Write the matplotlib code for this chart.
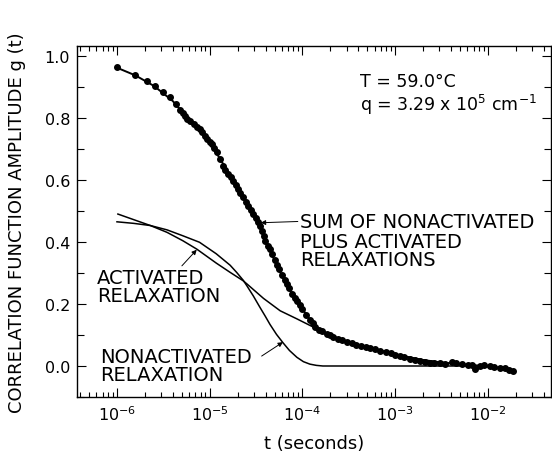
import numpy as np
import matplotlib
matplotlib.use("Agg")
import matplotlib.pyplot as plt
from matplotlib.ticker import LogLocator, MultipleLocator, NullFormatter

plt.rcParams['font.family'] = ['DejaVu Sans']

# measured points: log10(t/s), g(t)
dots_logt = [-6.00, -5.81, -5.68, -5.59, -5.50, -5.43, -5.36, -5.32, -5.29, -5.27,
             -5.24, -5.21, -5.17, -5.14, -5.11, -5.08, -5.05, -5.03, -5.00, -4.98,
             -4.95, -4.92, -4.89, -4.86, -4.83, -4.80, -4.77, -4.75, -4.72, -4.70,
             -4.67, -4.64, -4.61, -4.59, -4.56, -4.53, -4.50, -4.48, -4.46, -4.44,
             -4.42, -4.40, -4.37, -4.35, -4.33, -4.30, -4.27, -4.25, -4.22, -4.19,
             -4.17, -4.14, -4.11, -4.08, -4.06, -4.03, -4.00, -3.96, -3.92, -3.89,
             -3.86, -3.82, -3.79, -3.74, -3.70, -3.67, -3.62, -3.57, -3.52, -3.47,
             -3.42, -3.37, -3.32, -3.27, -3.22, -3.16, -3.10, -3.05, -3.00, -2.95,
             -2.90, -2.84, -2.79, -2.73, -2.68, -2.63, -2.58, -2.52, -2.46, -2.39,
             -2.34, -2.28, -2.22, -2.17, -2.14, -2.09, -2.04, -1.98, -1.93, -1.87,
             -1.82, -1.77, -1.73]
dots_g = [0.965, 0.939, 0.919, 0.903, 0.884, 0.868, 0.845, 0.826, 0.815, 0.806,
          0.798, 0.790, 0.780, 0.771, 0.763, 0.755, 0.742, 0.732, 0.724, 0.716,
          0.704, 0.690, 0.668, 0.645, 0.632, 0.619, 0.608, 0.597, 0.583, 0.571,
          0.558, 0.545, 0.530, 0.516, 0.503, 0.490, 0.478, 0.465, 0.450, 0.436,
          0.420, 0.404, 0.387, 0.376, 0.360, 0.341, 0.325, 0.312, 0.295, 0.278,
          0.265, 0.250, 0.232, 0.218, 0.208, 0.196, 0.184, 0.166, 0.148, 0.138,
          0.127, 0.116, 0.112, 0.104, 0.099, 0.094, 0.088, 0.083, 0.077, 0.073,
          0.068, 0.066, 0.062, 0.058, 0.054, 0.048, 0.045, 0.042, 0.036, 0.032,
          0.028, 0.023, 0.020, 0.016, 0.012, 0.010, 0.011, 0.010, 0.008, 0.013,
          0.009, 0.006, 0.004, 0.003, -0.010, 0.000, 0.002, 0.000, -0.004, -0.007,
          -0.008, -0.012, -0.016]

# fitted sum curve
sum_logt = [-6.0, -5.8, -5.6, -5.4, -5.2, -5.0, -4.8, -4.6, -4.5, -4.4, -4.3, -4.2,
            -4.1, -4.0, -3.9, -3.8, -3.7, -3.6, -3.5, -3.4, -3.2, -3.0, -2.8, -2.6,
            -2.4, -2.2, -2.0, -1.85, -1.72]
sum_g = [0.962, 0.937, 0.903, 0.855, 0.787, 0.722, 0.625, 0.522, 0.475, 0.405, 0.340, 0.278,
         0.226, 0.184, 0.140, 0.114, 0.097, 0.086, 0.076, 0.067, 0.052, 0.037, 0.024, 0.014,
         0.008, 0.003, -0.001, -0.007, -0.015]

# nonactivated component
nonact_logt = [-6.0, -5.82, -5.64, -5.46, -5.29, -5.11, -4.93, -4.78, -4.71, -4.64,
               -4.60, -4.53, -4.46, -4.40, -4.35, -4.28, -4.21, -4.14, -4.06, -3.99,
               -3.92, -3.85, -3.78, -3.5, -2.0]
nonact_g = [0.465, 0.460, 0.453, 0.439, 0.420, 0.399, 0.362, 0.325, 0.302, 0.277,
            0.259, 0.226, 0.190, 0.160, 0.134, 0.102, 0.075, 0.050, 0.028, 0.014,
            0.006, 0.002, 0.0, 0.0, 0.0]

# activated component
act_logt = [-5.99, -5.82, -5.64, -5.46, -5.29, -5.14, -4.93, -4.78, -4.64, -4.60, -4.42,
            -4.24, -4.06, -3.88, -3.7, -3.5, -3.3, -3.1, -2.9, -2.7, -2.5, -2.3, -2.1,
            -1.9, -1.72]
act_g = [0.490, 0.472, 0.453, 0.431, 0.404, 0.377, 0.332, 0.302, 0.275, 0.265, 0.218,
         0.178, 0.152, 0.125, 0.100, 0.076, 0.060, 0.046, 0.032, 0.020, 0.012, 0.006, 0.001,
         -0.005, -0.014]

fig = plt.figure(figsize=(5.52, 4.56), dpi=100)
ax = fig.add_axes([77/552, 1-398/456, 474/552, 351/456])

t = lambda lt: 10.0 ** np.asarray(lt)

ax.plot(t(sum_logt), sum_g, color='black', lw=1.4)
ax.plot(t(dots_logt), dots_g, 'o', color='black', ms=4.0)
ax.plot(t(nonact_logt), nonact_g, color='black', lw=1.1)
ax.plot(t(act_logt), act_g, color='black', lw=1.1)

ax.set_xscale('log')
ax.set_xlim(10**-6.431, 10**-1.32)
ax.set_ylim(-0.1, 1.032)

ax.xaxis.set_major_locator(LogLocator(base=10, numticks=10))
ax.xaxis.set_minor_locator(LogLocator(base=10, subs=np.arange(2, 10), numticks=20))
ax.xaxis.set_minor_formatter(NullFormatter())
ax.yaxis.set_major_locator(MultipleLocator(0.2))
ax.yaxis.set_minor_locator(MultipleLocator(0.1))
ax.set_yticks([0.0, 0.2, 0.4, 0.6, 0.8, 1.0])
ax.set_yticklabels(['0.0', '0.2', '0.4', '0.6', '0.8', '1.0'])

ax.tick_params(which='both', direction='in', top=True, right=True, labelsize=11.5, width=0.8)
ax.tick_params(which='major', length=6.5, pad=5)
ax.tick_params(which='minor', length=3.5)
ax.tick_params(axis='y', which='minor', length=5)
for s in ax.spines.values():
    s.set_linewidth(1.0)

ax.set_ylabel('CORRELATION FUNCTION AMPLITUDE g (t)', fontsize=13)
ax.yaxis.set_label_coords(-0.108, 0.5)
ax.set_xlabel('t (seconds)', fontsize=13, labelpad=8)

ax.text(10**-3.38, 0.919, 'T = 59.0°C', fontsize=12.5, va='center', ha='left')
ax.text(10**-3.38, 0.845, r'q = 3.29 x 10$^{5}$ cm$^{-1}$', fontsize=12.5, va='center', ha='left')

lab = dict(fontsize=14, ha='left', va='center')
ax.text(10**-4.03, 0.465, 'SUM OF NONACTIVATED', **lab)
ax.text(10**-4.03, 0.402, 'PLUS ACTIVATED', **lab)
ax.text(10**-4.03, 0.344, 'RELAXATIONS', **lab)
ax.text(10**-6.216, 0.287, 'ACTIVATED', **lab)
ax.text(10**-6.216, 0.226, 'RELAXATION', **lab)
ax.text(10**-6.18, 0.032, 'NONACTIVATED', **lab)
ax.text(10**-6.18, -0.026, 'RELAXATION', **lab)

arw = dict(arrowstyle='-|>', color='black', lw=0.7, mutation_scale=7, shrinkA=0, shrinkB=0)
ax.annotate('', xy=(10**-4.45, 0.462), xytext=(10**-4.05, 0.466), arrowprops=arw)
ax.annotate('', xy=(10**-5.14, 0.375), xytext=(10**-5.30, 0.323), arrowprops=arw)
ax.annotate('', xy=(10**-4.21, 0.077), xytext=(10**-4.44, 0.032), arrowprops=arw)

fig.savefig('out.png', dpi=100)
